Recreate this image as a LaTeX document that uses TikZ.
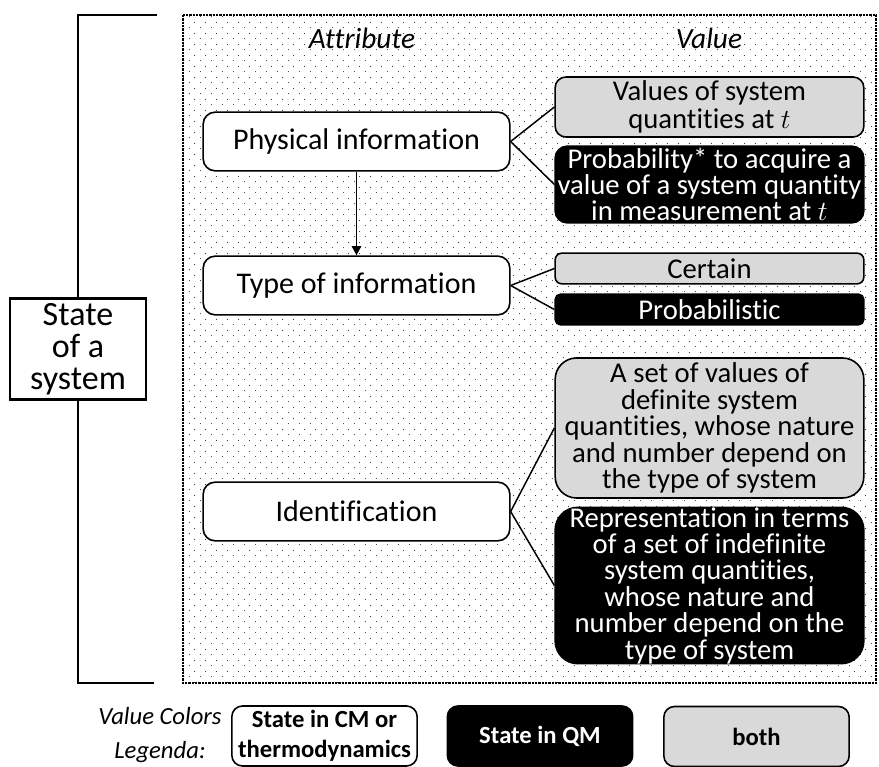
\documentclass[tikz,border=0pt]{standalone}
\usepackage{fontspec}
\setmainfont{Carlito}[Ligatures=NoCommon]
\usepackage{tikz}
\usetikzlibrary{arrows.meta,patterns.meta}
\definecolor{bothgray}{HTML}{D9D9D9}
\tikzdeclarepattern{
  name=sparsedots,
  type=uncolored,
  bounding box={(0pt,0pt) and (8.25pt,8.25pt)},
  tile size={(8.25pt,8.25pt)},
  code={
    \fill (2pt,2pt) circle (0.45pt);
    \fill (6.125pt,6.125pt) circle (0.45pt);
  }
}

\begin{document}
\begin{tikzpicture}[x=0.75pt,y=-0.75pt,
  attr/.style={draw,line width=1.2pt,fill=white,rounded corners=9pt,
    minimum width=230pt,minimum height=44pt,inner sep=0pt,align=center,
    font=\fontsize{22.5pt}{22pt}\selectfont},
  valboth/.style={draw,line width=1.2pt,fill=bothgray,minimum width=231.5pt,
    inner sep=0pt,align=center,font=\fontsize{21.5pt}{19.8pt}\selectfont},
  valqm/.style={valboth,fill=black,text=white},
  legbox/.style={draw,line width=1.2pt,minimum width=139pt,minimum height=45pt,
    inner sep=0pt,align=center,rounded corners=8pt,
    font=\fontsize{18.5pt}{22.5pt}\selectfont\bfseries},
  head/.style={font=\fontsize{22pt}{24pt}\selectfont\itshape},
  link/.style={line width=1.1pt}]
  \useasboundingbox (0,0) rectangle (879,767);

  % dotted frame round attributes and values
  \fill[pattern=sparsedots,pattern color=black!75] (183,15) rectangle (876,683);
  \draw[line width=2.2pt,dash pattern=on 1.8pt off 0.7pt] (183,15) rectangle (876,683);

  % the state box and its bracket
  \node[draw,line width=2.2pt,minimum width=102pt,minimum height=76pt,inner sep=0pt,
    align=center,font=\fontsize{25.5pt}{24pt}\selectfont] (state) at (78,349)
    {State\\of a\\system};
  \coordinate (brtop) at (157,15);
  \coordinate (brbot) at (154,683);
  \draw[line width=1.6pt] (brtop) -| (state.north);
  \draw[line width=1.6pt] (state.south) |- (brbot);

  \node[head] (hattr) at (362,38) {Attribute};
  \node[head] (hval) at (709,38) {Value};

  % attributes
  \node[attr] (phys) at (356.5,141.5) {Physical information};
  \node[attr] (type) at (356.5,285.5) {Type of information};
  \node[attr] (ident) at (356.5,511.5) {Identification};

  % values
  \node[valboth,minimum height=45pt,rounded corners=8pt,
    font=\fontsize{21.5pt}{21pt}\selectfont] (v1) at (709.5,107)
    {Values of system\\quantities at $t$};
  \node[valqm,minimum height=57.5pt,rounded corners=9pt] (v2) at (709.5,184.5)
    {Probability* to acquire a\\value of a system quantity\\in measurement at $t$};
  \node[valboth,minimum height=23pt,rounded corners=5pt] (v3) at (709.5,268.5) {Certain};
  \node[valqm,minimum height=23pt,rounded corners=4pt] (v4) at (709.5,309.5) {Probabilistic};
  \node[valboth,minimum height=105pt,rounded corners=16pt] (v5) at (709.5,428)
    {A set of values of\\definite system\\quantities, whose nature\\and number depend on\\the type of system};
  \node[valqm,minimum height=116pt,rounded corners=17pt] (v6) at (709.5,585.5)
    {Representation in terms\\of a set of indefinite\\system quantities,\\whose nature and\\number depend on the\\type of system};

  \draw[line width=1.4pt,-{Triangle[width=7pt,length=7pt]}] (phys) -- (type);
  \draw[link] (phys.east) -- (v1.west);
  \draw[link] (phys.east) -- (v2.west);
  \draw[link] (type.east) -- (v3.west);
  \draw[link] (type.east) -- (v4.west);
  \draw[link] (ident.east) -- (v5.west);
  \draw[link] (ident.east) -- (v6.west);

  % legend
  \node[align=center,font=\fontsize{18.5pt}{26pt}\selectfont\itshape] (leg) at (160,735)
    {Value Colors\\Legenda:};
  \node[legbox,fill=white] (lcm) at (324.5,736) {State in CM or\\thermodynamics};
  \node[legbox,fill=black,text=white] (lqm) at (540,736) {State in QM};
  \node[legbox,fill=bothgray] (lboth) at (756.5,736.5) {both};
\end{tikzpicture}
\end{document}
